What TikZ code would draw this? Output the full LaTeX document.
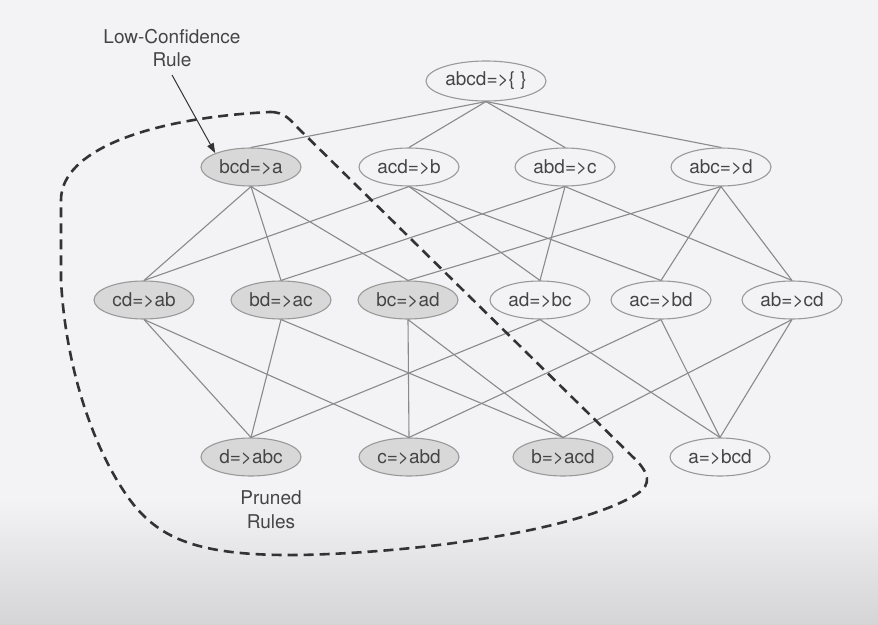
\documentclass[tikz,border=0pt]{standalone}
\usepackage{fontspec}
\setmainfont{TeX Gyre Heros}
\usetikzlibrary{shapes.geometric,arrows.meta}
\definecolor{bgtop}{HTML}{F3F3F5}
\definecolor{bgbot}{HTML}{D5D4D7}
\definecolor{txt}{HTML}{454545}
\definecolor{edgec}{HTML}{8A8A8A}
\definecolor{rimc}{HTML}{999999}
\definecolor{prunefill}{HTML}{D8D8D8}
\definecolor{dashc}{HTML}{333333}
\pgfdeclareverticalshading{bgshade}{100bp}{color(0bp)=(bgbot); color(25bp)=(bgbot); color(35bp)=(bgtop); color(100bp)=(bgtop)}
\tikzset{
  rule/.style={ellipse, draw=rimc, line width=1.1pt, minimum width=100pt, minimum height=38pt,
    inner sep=0pt, text=txt, font=\fontsize{19}{22}\selectfont, fill=bgtop},
  pruned/.style={rule, fill=prunefill},
  lattice/.style={draw=edgec, line width=1.1pt},
  labeltext/.style={text=txt, font=\fontsize{19}{23}\selectfont, align=center, inner sep=0pt},
  border/.style={draw=dashc, line width=2.6pt, dash pattern=on 10pt off 6pt},
}
\begin{document}
\begin{tikzpicture}[x=1pt,y=-1pt]
\useasboundingbox (0,0) rectangle (878,624);
\shade[shading=bgshade] (0,0) rectangle (878,624);

% nodes
\node[rule, minimum width=120pt, minimum height=40pt] (abcd) at (486,81) {abcd=>\{ \}};
\node[pruned] (bcd) at (251,167) {bcd=>a};
\node[rule] (acd) at (409,167) {acd=>b};
\node[rule] (abd) at (565,167) {abd=>c};
\node[rule] (abc) at (721,167) {abc=>d};
\node[pruned] (cd) at (144,300) {cd=>ab};
\node[pruned] (bd) at (281,300) {bd=>ac};
\node[pruned] (bc) at (408,300) {bc=>ad};
\node[rule] (ad) at (540,300) {ad=>bc};
\node[rule] (ac) at (661,300) {ac=>bd};
\node[rule] (ab) at (792,300) {ab=>cd};
\node[pruned] (d) at (251,457) {d=>abc};
\node[pruned] (c) at (409,457) {c=>abd};
\node[pruned] (b) at (563,457) {b=>acd};
\node[rule] (a) at (720,457) {a=>bcd};

\foreach \p/\q in {abcd/bcd,abcd/acd,abcd/abd,abcd/abc,
  bcd/cd,bcd/bd,bcd/bc, acd/cd,acd/ad,acd/ac, abd/bd,abd/ad,abd/ab, abc/bc,abc/ac,abc/ab,
  cd/d,cd/c, bd/d,bd/b, bc/c,bc/b, ad/d,ad/a, ac/c,ac/a, ab/b,ab/a}
  \draw[lattice] (\p.south) -- (\q.north);

% dashed region
\draw[border] (270,112) .. controls (285,112) and (290,120) .. (298,128)
  -- (638,462) .. controls (652,478) and (650,488) .. (630,498)
  .. controls (570,530) and (430,552) .. (300,555)
  .. controls (200,556) and (160,540) .. (130,500)
  .. controls (90,445) and (65,360) .. (61,280)
  -- (61,200) .. controls (61,150) and (150,118) .. (270,112) -- cycle;

% labels
\node[labeltext] (lowlabel) at (172,48) {Low-Confidence\\Rule};
\coordinate (arrstart) at (172,75);
\draw[draw=dashc, line width=1pt, -{Triangle[length=10pt,width=7pt]}] (arrstart) -- (bcd.north west);
\node[labeltext, font=\fontsize{19}{24}\selectfont] (prunedlabel) at (271,510) {Pruned\\Rules};
\end{tikzpicture}
\end{document}
